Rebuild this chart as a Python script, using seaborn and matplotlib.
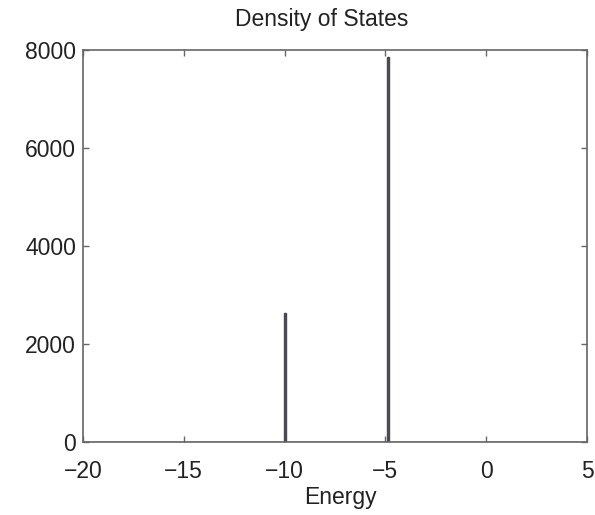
import numpy as np
import pandas as pd
import matplotlib
matplotlib.use("Agg")
import matplotlib.pyplot as plt
import seaborn as sns

# Data
energy = [-10.0, -4.87]
counts = [2620, 7850]
x_ticks = [-20, -15, -10, -5, 0, 5]
y_ticks = [0, 2000, 4000, 6000, 8000]
title = "Density of States"
xlabel = "Energy"

sns.set_style("ticks")
plt.rcParams['font.family'] = ['Liberation Sans', 'DejaVu Sans']
plt.rcParams['axes.unicode_minus'] = True

df = pd.DataFrame({"Energy": energy, "Count": counts})

fig = plt.figure(figsize=(5.95, 5.15), dpi=100)
ax = fig.add_axes([0.1395, 0.1423, 0.8471, 0.7606])

sns.histplot(data=df, x="Energy", weights="Count", binwidth=0.1,
             binrange=(-20.04, 4.96), ax=ax,
             color="#4a4a52", edgecolor="#4a4a52", linewidth=1.0, alpha=1.0)

ax.set_xlim(-20, 5)
ax.set_ylim(0, 8000)
ax.set_xticks(x_ticks)
ax.set_yticks(y_ticks)
ax.set_xticklabels([str(t).replace("-", "\u2212") for t in x_ticks])
ax.set_yticklabels([str(t) for t in y_ticks])
ax.set_title(title, fontsize=16.5, pad=17, color="#222222", x=0.474)
ax.set_xlabel(xlabel, fontsize=16.5, labelpad=5, color="#222222")
ax.xaxis.set_label_coords(0.51, -0.113)
ax.set_ylabel("")

for s in ax.spines.values():
    s.set_visible(True)
    s.set_color("#666666")
    s.set_linewidth(1.2)
ax.tick_params(axis="both", which="both", direction="in", length=4, width=1,
               color="#666666", labelsize=16.5, labelcolor="#222222",
               top=True, right=True, pad=5)
ax.tick_params(axis="x", pad=13)

fig.savefig("out.png", dpi=100, facecolor="white")
